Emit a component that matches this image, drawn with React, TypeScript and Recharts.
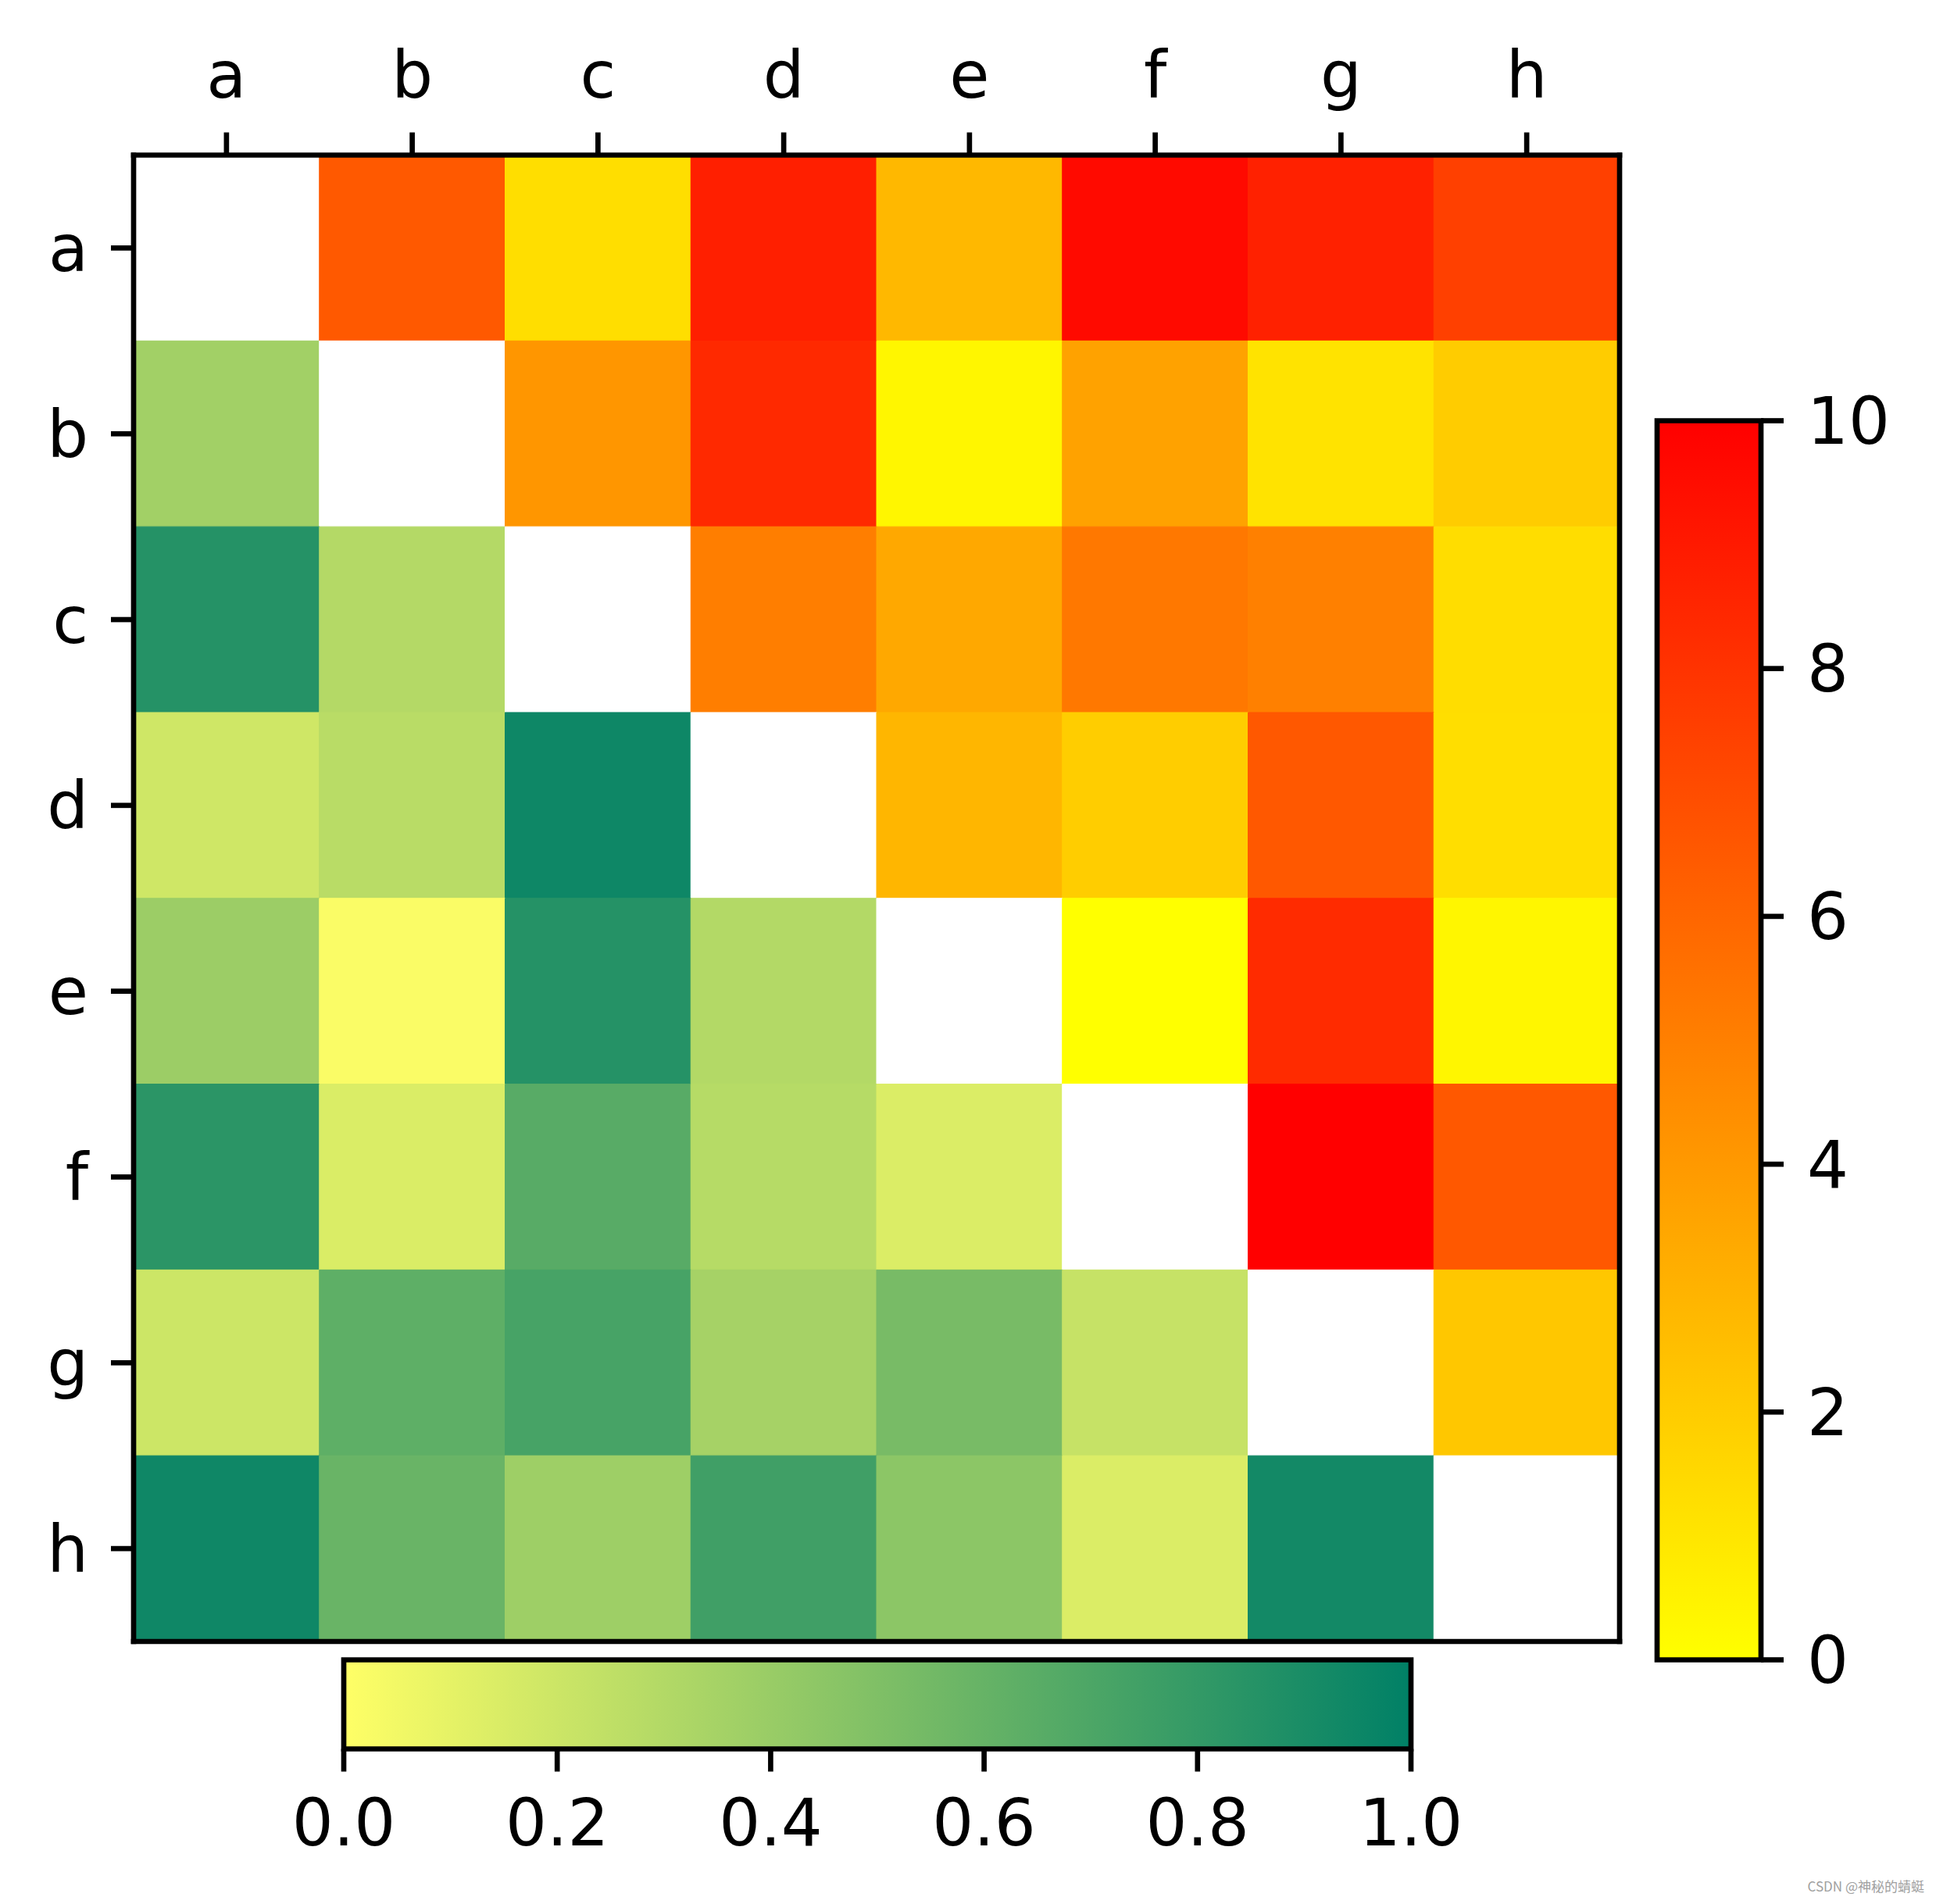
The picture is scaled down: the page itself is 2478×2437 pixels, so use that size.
import React from 'react';
import { BarChart, Bar, XAxis, YAxis, Cell } from 'recharts';

// ---- data ----
const labels = ['a', 'b', 'c', 'd', 'e', 'f', 'g', 'h'];

// upper triangle (autumn_r, 0..10): row i, columns i+1..h
const upperA = [6.5, 1.3, 8.8, 2.8, 9.6, 8.7, 7.5];
const upperB = [4.1, 8.4, 0.35, 3.65, 1.1, 2.0];
const upperC = [5.05, 3.4, 5.3, 5.0, 1.35];
const upperD = [2.85, 1.95, 6.55, 1.3];
const upperE = [0.0, 8.3, 0.35];
const upperF = [10.0, 6.55];
const upperG = [2.2];
const upperValues = [upperA, upperB, upperC, upperD, upperE, upperF, upperG];

// lower triangle (summer_r, 0..1): row i, columns a..i-1
const lowerB = [0.365];
const lowerC = [0.855, 0.295];
const lowerD = [0.19, 0.275, 0.945];
const lowerE = [0.39, 0.02, 0.855, 0.3];
const lowerF = [0.83, 0.145, 0.655, 0.285, 0.14];
const lowerG = [0.2, 0.63, 0.72, 0.35, 0.53, 0.225];
const lowerH = [0.94, 0.59, 0.38, 0.75, 0.45, 0.14, 0.925];
const lowerValues = [lowerB, lowerC, lowerD, lowerE, lowerF, lowerG, lowerH];

const rightRange = [0, 10];
const rightTicks = [0, 2, 4, 6, 8, 10];
const bottomRange = [0, 1];
const bottomTicks = [0, 0.2, 0.4, 0.6, 0.8, 1.0];
const rowTicks = [0.5, 1.5, 2.5, 3.5, 4.5, 5.5, 6.5, 7.5];

// ---- colour maps ----
const autumnR = (v: number) => {
  const t = Math.max(0, Math.min(1, v / 10));
  return `rgb(255,${Math.round(255 * (1 - t))},0)`;
};
const summerR = (v: number) => {
  const t = Math.max(0, Math.min(1, v));
  return `rgb(${Math.round(255 * (1 - t))},${Math.round(255 * (1 - 0.5 * t))},102)`;
};
const cellColor = (ri: number, ci: number) => {
  if (ri === ci) return '#ffffff';
  if (ci > ri) return autumnR(upperValues[ri][ci - ri - 1]);
  return summerR(lowerValues[ri - 1][ci]);
};

const heatData = labels.map((col) => {
  const o: Record<string, any> = { col };
  labels.forEach((_, ri) => {
    o[`r${ri}`] = 1;
  });
  return o;
});

const rightData = [{ k: 'cb', v: rightRange[1] }];
const bottomData = [{ k: 'cb', v: bottomRange[1] }];

const LW = 6.67;
const FONT = 'DejaVu Sans';
const FS = 83.3;
const frameLine = { stroke: '#000', strokeWidth: LW, strokeLinecap: 'square' as const };
const tickLineStyle = { stroke: '#000', strokeWidth: LW };
const tickStyle = { fill: '#000', fontSize: FS, fontFamily: FONT };

export default function App() {
  return (
    <div
      style={{
        position: 'absolute',
        left: 0,
        top: 0,
        width: 2478,
        height: 2437,
        background: '#fff',
        overflow: 'hidden',
      }}
    >
      {/* main heatmap */}
      <div style={{ position: 'absolute', left: 0, top: 0 }}>
        <BarChart
          width={2200}
          height={2200}
          data={heatData}
          margin={{ top: 0, left: 0, right: 126, bottom: 98 }}
          barCategoryGap={0}
          barGap={0}
        >
          <XAxis
            dataKey="col"
            type="category"
            orientation="top"
            height={198.5}
            interval={0}
            tickSize={29}
            tickMargin={44.5}
            tick={tickStyle}
            tickLine={tickLineStyle}
            axisLine={frameLine}
          />
          <XAxis
            xAxisId="frameB"
            dataKey="col"
            type="category"
            orientation="bottom"
            height={1}
            tick={false}
            tickLine={false}
            axisLine={frameLine}
          />
          <YAxis
            type="number"
            domain={[0, 8]}
            reversed
            allowDataOverflow
            ticks={rowTicks}
            interval={0}
            tickFormatter={(v: number) => labels[Math.floor(v)]}
            width={171}
            tickSize={29}
            tickMargin={29}
            tick={tickStyle}
            tickLine={tickLineStyle}
            axisLine={frameLine}
          />
          <YAxis
            yAxisId="frameR"
            type="number"
            domain={[0, 8]}
            orientation="right"
            width={1}
            tick={false}
            tickLine={false}
            axisLine={frameLine}
          />
          {labels.map((rl, ri) => (
            <Bar key={rl} dataKey={`r${ri}`} stackId="s" isAnimationActive={false}>
              {labels.map((cl, ci) => (
                <Cell
                  key={cl}
                  fill={cellColor(ri, ci)}
                  stroke={cellColor(ri, ci)}
                  strokeWidth={1}
                />
              ))}
            </Bar>
          ))}
        </BarChart>
      </div>

      {/* right colorbar 0..10 */}
      <div style={{ position: 'absolute', left: 2000, top: 450 }}>
        <BarChart
          width={478}
          height={1750}
          data={rightData}
          margin={{ top: 88.5, left: 121, right: 0, bottom: 75.5 }}
          barCategoryGap={0}
        >
          <defs>
            <linearGradient id="gradR" x1="0" y1="1" x2="0" y2="0">
              <stop offset="0%" stopColor={autumnR(rightRange[0])} />
              <stop offset="100%" stopColor={autumnR(rightRange[1])} />
            </linearGradient>
          </defs>
          <XAxis dataKey="k" type="category" hide />
          <YAxis
            type="number"
            orientation="right"
            domain={rightRange}
            ticks={rightTicks}
            interval={0}
            width={224}
            tickSize={29}
            tickMargin={30}
            tick={tickStyle}
            tickLine={tickLineStyle}
            axisLine={false}
          />
          <Bar
            dataKey="v"
            fill="url(#gradR)"
            stroke="#000"
            strokeWidth={LW}
            isAnimationActive={false}
          />
        </BarChart>
      </div>

      {/* bottom colorbar 0..1 */}
      <div style={{ position: 'absolute', left: 300, top: 2100 }}>
        <BarChart
          layout="vertical"
          width={1700}
          height={337}
          data={bottomData}
          margin={{ top: 24.5, left: 140, right: 194, bottom: 0 }}
          barCategoryGap={0}
        >
          <defs>
            <linearGradient id="gradB" x1="0" y1="0" x2="1" y2="0">
              <stop offset="0%" stopColor={summerR(bottomRange[0])} />
              <stop offset="100%" stopColor={summerR(bottomRange[1])} />
            </linearGradient>
          </defs>
          <YAxis dataKey="k" type="category" hide />
          <XAxis
            type="number"
            orientation="bottom"
            domain={bottomRange}
            ticks={bottomTicks}
            interval={0}
            height={198.5}
            tickFormatter={(v: number) => v.toFixed(1)}
            tickSize={29}
            tickMargin={35.5}
            tick={tickStyle}
            tickLine={tickLineStyle}
            axisLine={false}
          />
          <Bar
            dataKey="v"
            fill="url(#gradB)"
            stroke="#000"
            strokeWidth={LW}
            isAnimationActive={false}
          />
        </BarChart>
      </div>

      {/* watermark */}
      <div
        style={{
          position: 'absolute',
          right: 15,
          top: 2404,
          fontSize: 17,
          lineHeight: '20px',
          color: '#a0a0a0',
          fontFamily: '"Noto Sans CJK SC", "Noto Sans", sans-serif',
          whiteSpace: 'nowrap',
        }}
      >
        CSDN @神秘的蜻蜓
      </div>
    </div>
  );
}
